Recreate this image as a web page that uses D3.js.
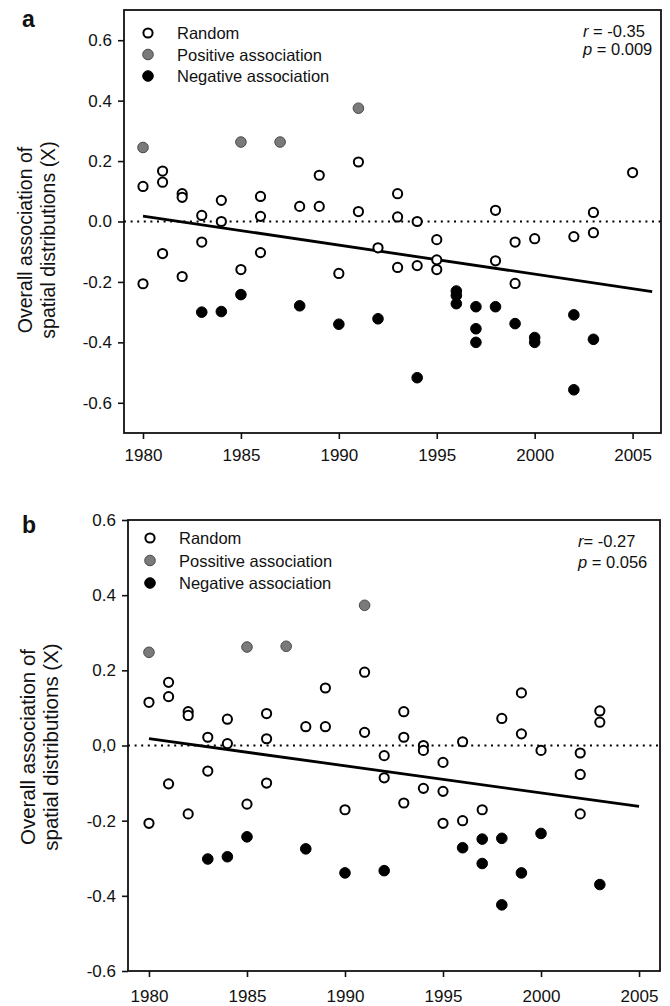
<!DOCTYPE html>
<html>
<head>
<meta charset="utf-8">
<script src="https://cdn.jsdelivr.net/npm/d3@7"></script>
<style>
body { margin: 0; background: #fff; }
text { font-family: "Liberation Sans", Arial, sans-serif; fill: #111; }
</style>
</head>
<body>
<svg id="chart" width="670" height="1006"></svg>
<script>
// tick values and labels
var xTicks = [1980, 1985, 1990, 1995, 2000, 2005];
var yTicks = [-0.6, -0.4, -0.2, 0, 0.2, 0.4, 0.6];
var aYLabels = ["-0.6", "-0.4", "-0.2", "0.0", "0.2", "0.4", "0.6"];
var bYLabels = ["-0.6", "-0.4", "-0.2", "0,0", "0.2", "0.4", "0.6"];
var aLegend = ["Random", "Positive association", "Negative association"];
var bLegend = ["Random", "Possitive association", "Negative association"];
var titleLines = ["Overall association of", "spatial distributions (X)"];

// panel a: [year, X]
var aRandom = [
    [1980, 0.116], [1980, -0.206], [1981, 0.167], [1981, 0.13], [1981, -0.106],
    [1982, 0.092], [1982, 0.08], [1982, -0.182], [1983, 0.02], [1983, -0.068],
    [1984, 0.07], [1984, 0.0], [1985, -0.159], [1986, 0.083], [1986, 0.017],
    [1986, -0.103], [1988, 0.05], [1989, 0.153], [1989, 0.05], [1990, -0.172],
    [1991, 0.197], [1991, 0.033], [1992, -0.087], [1993, 0.092], [1993, 0.015],
    [1993, -0.152], [1994, 0.0], [1994, -0.146], [1995, -0.06], [1995, -0.127],
    [1995, -0.159], [1998, 0.037], [1998, -0.13], [1999, -0.068], [1999, -0.205],
    [2000, -0.057], [2002, -0.05], [2003, 0.03], [2003, -0.037], [2005, 0.162]
];
var aPositive = [[1980, 0.245], [1985, 0.263], [1987, 0.263], [1991, 0.375]];
var aNegative = [
    [1983, -0.30], [1984, -0.298], [1985, -0.242], [1988, -0.279], [1990, -0.34],
    [1992, -0.322], [1994, -0.517], [1996, -0.23], [1996, -0.245], [1996, -0.272],
    [1997, -0.282], [1997, -0.355], [1997, -0.40], [1998, -0.282], [1999, -0.338],
    [2000, -0.384], [2000, -0.40], [2002, -0.309], [2002, -0.557], [2003, -0.39]
];
var aTrend = [[1980, 0.018], [2006, -0.232]];
var aStats = ["r", " = -0.35", "p", " = 0.009"];

// panel b: [year, X]
var bRandom = [
    [1980, 0.115], [1980, -0.207], [1981, 0.168], [1981, 0.13], [1981, -0.102],
    [1982, 0.09], [1982, 0.08], [1982, -0.182], [1983, 0.022], [1983, -0.068],
    [1984, 0.07], [1984, 0.005], [1985, -0.156], [1986, 0.085], [1986, 0.018],
    [1986, -0.1], [1988, 0.05], [1989, 0.153], [1989, 0.05], [1990, -0.171],
    [1991, 0.195], [1991, 0.035], [1992, -0.027], [1992, -0.086], [1993, 0.09],
    [1993, 0.022], [1993, -0.153], [1994, 0.0], [1994, -0.013], [1994, -0.114],
    [1995, -0.045], [1995, -0.122], [1995, -0.207], [1996, 0.01], [1996, -0.2],
    [1997, -0.171], [1998, 0.072], [1999, 0.14], [1999, 0.031], [2000, -0.013],
    [2002, -0.02], [2002, -0.077], [2002, -0.182], [2003, 0.092], [2003, 0.062]
];
var bPositive = [[1980, 0.248], [1985, 0.262], [1987, 0.264], [1991, 0.373]];
var bNegative = [
    [1983, -0.302], [1984, -0.296], [1985, -0.243], [1988, -0.275], [1990, -0.339],
    [1992, -0.333], [1996, -0.272], [1997, -0.249], [1997, -0.314], [1998, -0.247],
    [1998, -0.424], [1999, -0.339], [2000, -0.234], [2003, -0.37]
];
var bTrend = [[1980, 0.018], [2005, -0.162]];
var bStats = ["r", "= -0.27", "p", " = 0.056"];

var svg = d3.select("#chart");

var styles = [
    {fill: "#fff", stroke: "#000", sw: 2, r: 4.6},      // random
    {fill: "#7a7a7a", stroke: "#4a4a4a", sw: 1, r: 5.3}, // positive
    {fill: "#000", stroke: "#000", sw: 1, r: 5.3}        // negative
];

function drawPanel(p) {
    var g = svg.append("g");
    var x = d3.scaleLinear().domain(p.xDomain).range([p.left, p.right]);
    var y = d3.scaleLinear().domain(p.yDomain).range([p.bottom, p.top]);

    // zero line
    g.append("line")
        .attr("x1", p.left).attr("x2", p.right)
        .attr("y1", y(0)).attr("y2", y(0))
        .attr("stroke", "#000").attr("stroke-width", 2)
        .attr("stroke-dasharray", "2,4.6");

    // trend
    g.append("path")
        .datum(p.trend)
        .attr("d", d3.line().x(function (d) { return x(d[0]); }).y(function (d) { return y(d[1]); }))
        .attr("fill", "none").attr("stroke", "#000").attr("stroke-width", 2.8);

    // points
    [p.random, p.positive, p.negative].forEach(function (set, i) {
        g.append("g").selectAll("circle").data(set).enter().append("circle")
            .attr("cx", function (d) { return x(d[0]); })
            .attr("cy", function (d) { return y(d[1]); })
            .attr("r", styles[i].r)
            .attr("fill", styles[i].fill)
            .attr("stroke", styles[i].stroke)
            .attr("stroke-width", styles[i].sw);
    });

    // frame
    g.append("rect")
        .attr("x", p.left).attr("y", p.top)
        .attr("width", p.right - p.left).attr("height", p.bottom - p.top)
        .attr("fill", "none").attr("stroke", "#111").attr("stroke-width", 1.8);

    // axes
    var ya = g.append("g").attr("transform", `translate(${p.left},0)`)
        .call(d3.axisLeft(y).tickValues(yTicks).tickSize(6).tickPadding(6)
            .tickFormat(function (d, i) { return p.yLabels[i]; }));
    var xa = g.append("g").attr("transform", `translate(0,${p.bottom})`)
        .call(d3.axisBottom(x).tickValues(xTicks).tickSize(6).tickPadding(p.xPad)
            .tickFormat(d3.format("d")));
    [ya, xa].forEach(function (a) {
        a.select(".domain").remove();
        a.selectAll("line").attr("stroke", "#111").attr("stroke-width", 1.6);
        a.selectAll("text").attr("font-size", 17).attr("fill", "#111")
            .style("font-family", '"Liberation Sans", Arial, sans-serif');
    });

    // legend
    var lg = g.append("g");
    p.legend.forEach(function (t, i) {
        var cy = p.legendY + i * p.legendStep;
        lg.append("circle").attr("cx", p.legendX).attr("cy", cy)
            .attr("r", styles[i].r)
            .attr("fill", styles[i].fill).attr("stroke", styles[i].stroke)
            .attr("stroke-width", styles[i].sw);
        lg.append("text").attr("x", p.legendX + 29).attr("y", cy + 6)
            .attr("font-size", 16.5).text(t);
    });

    // statistics
    for (var k = 0; k < 2; k++) {
        var st = g.append("text").attr("x", p.statX).attr("y", p.statY + k * p.statStep)
            .attr("font-size", 16.5);
        st.append("tspan").attr("font-style", "italic").text(p.stats[k * 2]);
        st.append("tspan").text(p.stats[k * 2 + 1]);
    }

    // axis title
    var tg = g.append("g").attr("transform", `translate(${p.titleX},${p.titleY}) rotate(-90)`);
    titleLines.forEach(function (t, i) {
        tg.append("text").attr("text-anchor", "middle").attr("y", i * 23)
            .attr("font-size", p.titleSize).text(t);
    });

    // panel letter
    g.append("text").attr("x", p.letterX).attr("y", p.letterY)
        .attr("font-size", 23).attr("font-weight", "bold").text(p.letter);
}

drawPanel({
    letter: "a", letterX: 22, letterY: 27,
    left: 124, right: 661, top: 10, bottom: 433,
    xDomain: [1979.03, 2006.45], yDomain: [-0.7, 0.7],
    xPad: 10, yLabels: aYLabels,
    random: aRandom, positive: aPositive, negative: aNegative, trend: aTrend,
    legend: aLegend, legendX: 148, legendY: 33, legendStep: 21.5,
    stats: aStats, statX: 583, statY: 37, statStep: 17.5,
    titleX: 32, titleY: 240, titleSize: 19.5
});

drawPanel({
    letter: "b", letterX: 22, letterY: 533,
    left: 128, right: 660, top: 520, bottom: 971,
    xDomain: [1978.93, 2006.07], yDomain: [-0.6, 0.6],
    xPad: 13, yLabels: bYLabels,
    random: bRandom, positive: bPositive, negative: bNegative, trend: bTrend,
    legend: bLegend, legendX: 150, legendY: 538, legendStep: 22.5,
    stats: bStats, statX: 578, statY: 547, statStep: 21,
    titleX: 35, titleY: 747, titleSize: 20.5
});
</script>
</body>
</html>
